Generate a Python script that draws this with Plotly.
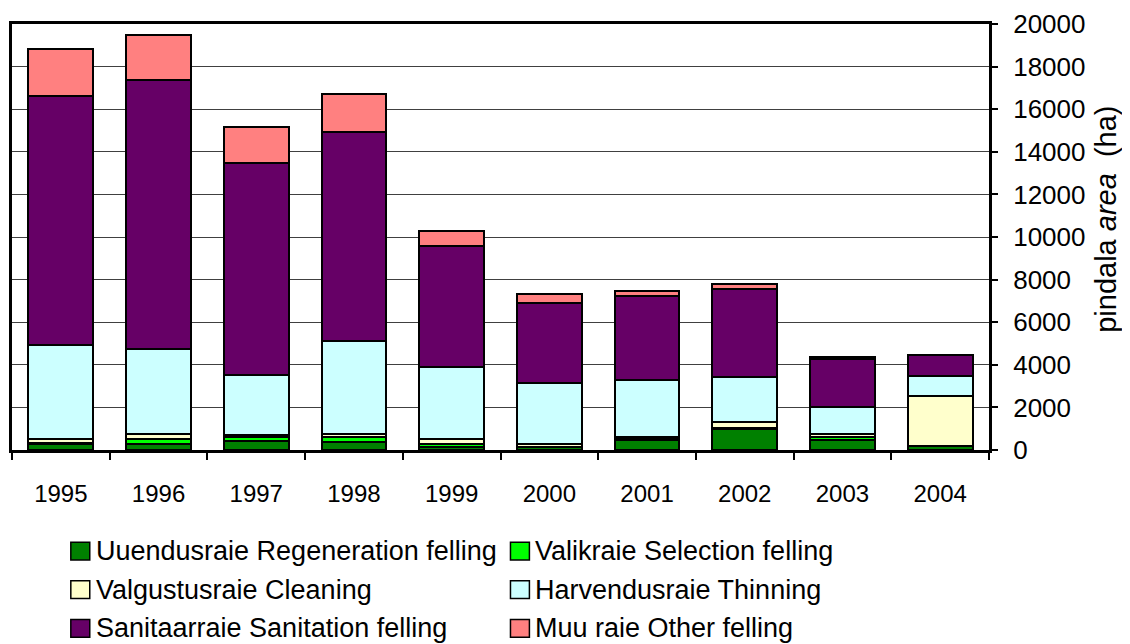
import plotly.graph_objects as go

years = ["1995", "1996", "1997", "1998", "1999", "2000", "2001", "2002", "2003", "2004"]

series_names = [
    "Uuendusraie Regeneration felling",
    "Valikraie Selection felling",
    "Valgustusraie Cleaning",
    "Harvendusraie Thinning",
    "Sanitaarraie Sanitation felling",
    "Muu raie Other felling",
]
series_colors = ["#008000", "#00FF00", "#FFFFCC", "#CCFFFF", "#660066", "#FF8080"]

regeneration = [270, 300, 420, 360, 150, 120, 480, 970, 450, 180]
selection    = [60, 240, 170, 250, 130, 40, 60, 80, 150, 20]
cleaning     = [180, 200, 120, 130, 230, 120, 65, 250, 150, 2340]
thinning     = [4434, 3986, 2792, 4358, 3378, 2854, 2683, 2109, 1278, 916]
sanitation   = [11661, 12624, 9968, 9846, 5707, 3750, 3949, 4172, 2251, 984]
other        = [2200, 2120, 1707, 1782, 684, 432, 233, 214, 107, 25]

series_values = [regeneration, selection, cleaning, thinning, sanitation, other]

y_ticks = list(range(0, 20001, 2000))
y_title = "pindala <i>area</i>  (ha)"

# page body adds an 8px offset; positions below are in figure pixels
W, H = 1130, 644
L, R, T, B = 1, 149, 12, 202
PW, PH = W - L - R, H - T - B
FONT = "Liberation Sans, Arial, sans-serif"


def px(x):
    return (x - L) / PW


def py(y):
    return (H - B - y) / PH


fig = go.Figure()
for name, color, vals in zip(series_names, series_colors, series_values):
    fig.add_trace(go.Bar(
        x=years, y=vals, name=name,
        marker=dict(color=color, line=dict(color="black", width=2)),
        showlegend=False,
    ))

# manual legend (two columns, three rows)
shapes = []
annotations = []
for i, (name, color) in enumerate(zip(series_names, series_colors)):
    col, row = i % 2, i // 2
    x0 = 60 + col * 441
    yc = 544 + row * 39
    shapes.append(dict(type="rect", xref="paper", yref="paper",
                       x0=px(x0), x1=px(x0 + 19), y0=py(yc + 9), y1=py(yc - 9),
                       fillcolor=color, line=dict(color="black", width=1.5)))
    annotations.append(dict(xref="paper", yref="paper", x=px(x0 + 23), y=py(yc),
                            xanchor="left", yanchor="middle", showarrow=False,
                            text=name, font=dict(size=27, color="black", family=FONT)))

annotations.append(dict(xref="paper", yref="paper", x=px(1099), y=py(209),
                        xanchor="center", yanchor="middle", showarrow=False,
                        textangle=-90, text=y_title,
                        font=dict(size=29, color="black", family=FONT)))

fig.update_layout(
    width=W, height=H,
    margin=dict(l=L, r=R, t=T, b=B),
    barmode="stack", bargap=0.337,
    paper_bgcolor="white", plot_bgcolor="white",
    font=dict(family=FONT, size=25, color="black"),
    shapes=shapes, annotations=annotations,
    showlegend=False,
)
fig.update_xaxes(
    type="category", showline=True, linecolor="black", linewidth=3, mirror=True,
    ticks="outside", tickson="boundaries", ticklen=7, tickwidth=2, tickcolor="black",
    showgrid=False, ticklabelstandoff=20,
    tickfont=dict(size=24, family=FONT, color="black"),
)
fig.update_yaxes(
    side="right", range=[0, 20000], tickvals=y_ticks,
    ticktext=[str(v) for v in y_ticks],
    showline=True, linecolor="black", linewidth=3, mirror=True,
    ticks="outside", ticklen=6, tickwidth=2, tickcolor="black",
    showgrid=True, gridcolor="#404040", gridwidth=1, zeroline=False,
    ticklabelstandoff=10, ticklabeloverflow="allow",
    tickfont=dict(size=26, family=FONT, color="black"),
)

fig.write_html("out.html")
